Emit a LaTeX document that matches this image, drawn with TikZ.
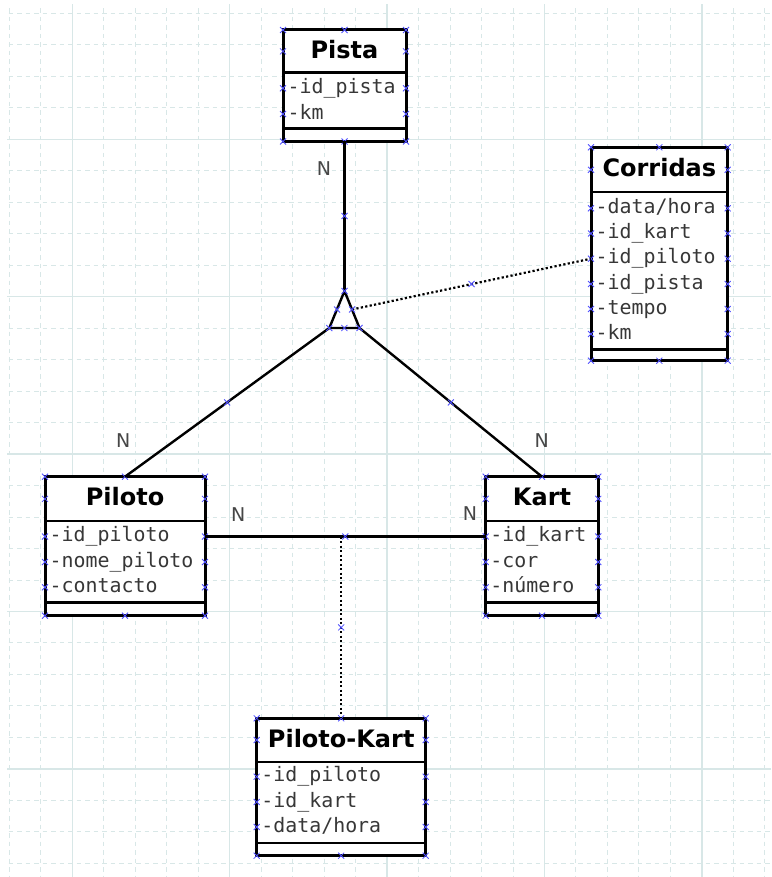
\documentclass[tikz,border=0pt]{standalone}
\usepackage{fontspec}
\newfontfamily\hdrfont{DejaVu Sans}
\newfontfamily\attrfont{DejaVu Sans Mono}
\definecolor{gridc}{RGB}{216,231,231}
\definecolor{markc}{RGB}{80,80,255}
\definecolor{attrc}{RGB}{55,55,55}
\definecolor{labc}{RGB}{70,70,70}
\tikzset{
  clsbox/.style={draw=black, line width=3pt, fill=white, inner sep=0pt, outer sep=0pt},
  divline/.style={line width=2.4pt},
  clstitle/.style={font=\hdrfont\bfseries\fontsize{24}{24}\selectfont, anchor=base, inner sep=0pt},
  attr/.style={font=\attrfont\fontsize{19.9}{20}\selectfont, text=attrc, anchor=base west, inner sep=0pt},
  conn/.style={line width=2.4pt},
  dotconn/.style={line width=2.2pt, dash pattern=on 2.2pt off 2.3pt},
  nlab/.style={font=\hdrfont\fontsize{19}{19}\selectfont, text=labc, inner sep=0pt},
  minorgrid/.style={gridc, line width=1pt, dash pattern=on 4.5pt off 4pt},
  majorgrid/.style={gridc, line width=1.3pt},
  xmk/.pic={\draw[markc, line width=0.8pt] (-3,-3)--(3,3) (-3,3)--(3,-3);}
}
% name, L, R, T, H, A, B, title
\newcommand\umlcls[8]{%
  \node[clsbox, minimum width={#3-#2}, minimum height={#7-#4}] (#1) at ({(#2+#3)/2},{(#4+#7)/2}) {};
  \draw[divline] (#2,#5) -- (#3,#5) (#2,#6) -- (#3,#6);
  \node[clstitle] (#1-t) at ({(#2+#3)/2},{#4+29}) {#8};
  \pic at (#2,#4) {xmk}; \pic at (#3,#4) {xmk}; \pic at ({(#2+#3)/2},#4) {xmk};
  \pic at (#2,#7) {xmk}; \pic at (#3,#7) {xmk}; \pic at ({(#2+#3)/2},#7) {xmk};
  \pic at (#2,{(#4+#5)/2}) {xmk}; \pic at (#3,{(#4+#5)/2}) {xmk};
}
% name, L, R, y, text
\newcommand\arow[5]{%
  \node[attr] (#1) at ({#2+4.5},{#4+5.2}) {#5};
  \coordinate (#1-w) at (#2,#4);
  \coordinate (#1-e) at (#3,#4);
  \pic at (#2,#4) {xmk}; \pic at (#3,#4) {xmk};
}
\begin{document}
\begin{tikzpicture}[x=1pt,y=-1pt]
\fill[white] (0,0) rectangle (771,877);
\useasboundingbox (0,0) rectangle (771,877);
% grid
\begin{scope}
  \clip (7,5) rectangle (771,877);
  \foreach \k in {-2,...,22} \draw[minorgrid] ({72.3+31.48*\k},0) -- ({72.3+31.48*\k},877);
  \foreach \k in {-4,...,23} \draw[minorgrid] (0,{139.3+31.48*\k}) -- (771,{139.3+31.48*\k});
  \foreach \k in {0,5,10,15,20} {
    \draw[majorgrid] ({72.3+31.48*\k},0) -- ({72.3+31.48*\k},877);
    \draw[majorgrid] (0,{139.3+31.48*\k}) -- (771,{139.3+31.48*\k});
  }
\end{scope}

% triangle
\coordinate (ta) at (344.5,291);
\coordinate (tl) at (329.3,328);
\coordinate (tr) at (359.5,328);
\coordinate (trm) at (352,309.5);
\coordinate (assoc) at (341.2,536.5);

% classes
\umlcls{pista}{283}{406}{30}{72.7}{128.7}{141.5}{Pista}
\arow{pista-a1}{283}{406}{88.3}{-id\_pista}
\arow{pista-a2}{283}{406}{114}{-km}

\umlcls{corridas}{591}{727.7}{147.3}{192.3}{349.3}{360.7}{Corridas}
\arow{corr-a1}{591}{727.7}{208.3}{-data/hora}
\arow{corr-a2}{591}{727.7}{233.5}{-id\_kart}
\arow{corr-a3}{591}{727.7}{258.7}{-id\_piloto}
\arow{corr-a4}{591}{727.7}{284}{-id\_pista}
\arow{corr-a5}{591}{727.7}{309}{-tempo}
\arow{corr-a6}{591}{727.7}{334}{-km}

\umlcls{piloto}{45}{205}{476.7}{521}{602.3}{615.7}{Piloto}
\arow{pil-a1}{45}{205}{536.5}{-id\_piloto}
\arow{pil-a2}{45}{205}{562}{-nome\_piloto}
\arow{pil-a3}{45}{205}{587.3}{-contacto}

\umlcls{kart}{485.7}{598.3}{476.7}{521}{602.3}{615.7}{Kart}
\arow{kart-a1}{485.7}{598.3}{536.5}{-id\_kart}
\arow{kart-a2}{485.7}{598.3}{562}{-cor}
\arow{kart-a3}{485.7}{598.3}{587.3}{-número}

\umlcls{pk}{256.7}{425.7}{718.3}{761.7}{842.7}{855.7}{Piloto-Kart}
\arow{pk-a1}{256.7}{425.7}{776.7}{-id\_piloto}
\arow{pk-a2}{256.7}{425.7}{802}{-id\_kart}
\arow{pk-a3}{256.7}{425.7}{827}{-data/hora}

% connectors
\draw[conn] (pista.south) -- (ta);
\draw[conn, line join=miter] (ta) -- (tl) -- (tr) -- cycle;
\draw[conn] (tl) -- (piloto.north);
\draw[conn] (tr) -- (kart.north);
\draw[dotconn] (trm) -- (corr-a3-w);
\draw[conn] (pil-a1-e) -- (kart-a1-w);
\draw[dotconn] (assoc) -- (pk.north);

% connector markers
\pic at (ta) {xmk}; \pic at (tl) {xmk}; \pic at (tr) {xmk};
\pic at (344.4,328) {xmk}; \pic at (trm) {xmk}; \pic at (337,309.5) {xmk};
\pic at (344.5,216) {xmk};
\pic at (227.2,402.5) {xmk};
\pic at (450.8,402.5) {xmk};
\pic at (471.5,284) {xmk};
\pic at (345.3,536.5) {xmk};
\pic at (341.2,627.4) {xmk};

% multiplicity labels
\node[nlab] (n1) at (324,168.3) {N};
\node[nlab] (n2) at (123.3,440.7) {N};
\node[nlab] (n3) at (541.7,440.7) {N};
\node[nlab] (n4) at (238.3,515) {N};
\node[nlab] (n5) at (470,513.5) {N};
\end{tikzpicture}
\end{document}
